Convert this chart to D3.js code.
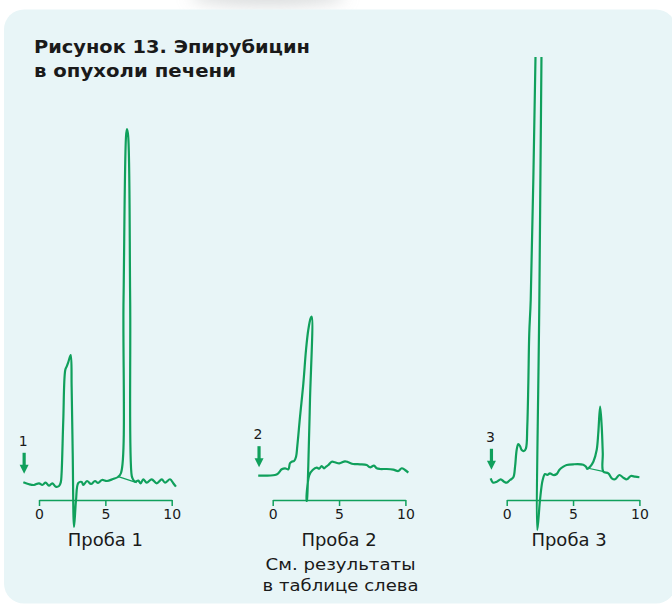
<!DOCTYPE html>
<html><head><meta charset="utf-8">
<script src="https://cdn.jsdelivr.net/npm/d3@7"></script>
<style>html,body{margin:0;padding:0;background:#fff;}svg{display:block;}</style>
</head><body>
<svg id="c" width="672" height="605"></svg>
<script>
// ---- data (time in min, signal in arbitrary units) ----
const titleLines = ["Рисунок 13. Эпирубицин", "в опухоли печени"];
const sampleNames = ["Проба 1", "Проба 2", "Проба 3"];
const sampleMarks = ["1", "2", "3"];
const noteLines = ["См. результаты", "в таблице слева"];
const tickValues = [0, 5, 10];

const trace1 = [[-1.18,4.43],[-0.75,3.93],[-0.38,3.75],[0.0,4.18],[0.25,3.75],[0.5,4.33],[0.75,3.58],[1.0,4.18],[1.26,3.33],[1.51,3.5],[1.64,4.4],[1.7,6.5],[1.83,20],[1.98,32.5],[2.09,33.4],[2.21,34.5],[2.39,36.25],[2.46,28.25],[2.54,11.75],[2.64,-6.75],[2.79,0],[2.96,4.25],[3.22,4.5],[3.34,3.75],[3.62,4.75],[3.92,4.0],[4.22,4.75],[4.45,4.25],[4.75,5.0],[5.12,4.75],[5.58,5.25],[5.95,5.75],[6.18,6.75],[6.37,50],[6.56,91],[6.63,92.75],[6.72,91],[6.87,50],[6.99,6.0],[7.11,5.0],[7.23,4.58],[7.48,4.83],[7.66,4.18],[7.86,5.18],[8.12,4.33],[8.49,5.18],[8.87,4.18],[9.25,5.18],[9.5,4.33],[9.87,5.18],[10.12,4.18],[10.32,3.33]];
const base1 = [[5.98,5.83],[7.36,4.33]];

const trace2 = [[-1.09,6.08],[0.17,6.25],[0.42,6.68],[0.68,7.68],[0.93,7.93],[1.18,7.68],[1.3,9.18],[1.43,9.58],[1.61,9.75],[1.76,10.83],[1.85,13.33],[2.06,20.83],[2.31,29.18],[2.51,37.5],[2.68,42.5],[2.86,45.43],[2.94,45.83],[2.81,25],[2.68,8.33],[2.58,0],[2.55,-0.25],[2.61,3.33],[2.76,6.25],[3.01,7.5],[3.32,8.08],[3.51,7.83],[3.69,8.5],[3.87,7.93],[4.02,8.33],[4.19,8.75],[4.45,9.58],[4.69,9.43],[5.02,9.18],[5.45,9.68],[5.7,9.43],[6.07,9.0],[6.58,8.93],[7.08,8.75],[7.33,8.18],[7.63,8.58],[7.84,7.93],[8.09,7.75],[8.59,7.75],[9.09,7.58],[9.47,7.25],[9.72,7.93],[9.97,7.5],[10.22,6.83]];

const trace3 = [[-1.21,5.43],[-1.01,4.33],[-0.75,4.58],[-0.45,5.18],[-0.2,4.58],[0.0,4.33],[0.25,5.0],[0.5,5.68],[0.63,8.33],[0.75,12.5],[0.87,14.0],[1.0,13.5],[1.13,12.5],[1.3,12.25],[1.45,12.93],[1.55,18.33],[1.63,29.18],[1.7,41.68],[1.81,50],[2.17,110.75],[2.21,120],[2.64,120],[2.62,110.75],[2.46,50],[2.31,-7.5],[2.51,0],[2.71,5],[2.89,6.5],[3.06,6.25],[3.26,6.68],[3.51,6.25],[3.77,6.5],[3.96,7.5],[4.27,8.33],[4.52,8.75],[5.02,8.93],[5.77,8.83],[5.98,8.33],[6.07,7.75],[6.28,8.33],[6.53,9.58],[6.78,12.5],[6.9,16.68],[7.04,23.33],[7.16,18.33],[7.24,11.68],[7.28,7.08],[7.66,6.68],[7.92,5.43],[8.17,5.18],[8.49,6.25],[8.79,5.58],[9.05,5.18],[9.35,6.0],[9.68,5.83],[10.0,5.68]];
const base3 = [[6.15,7.93],[7.33,7.08]];

const traces = [trace1, trace2, trace3];
const baselines = [base1, null, base3];

// ---- layout ----
const GREEN = "#10a05c";
const TEXT = "#1a1a1a";
const FONT = "DejaVu Sans, Verdana, sans-serif";
const panelX0 = [39, 272.7, 506.7];
const panelW = 132.7;
const y = d3.scaleLinear().domain([0, 100]).range([500, 100]);
const clipTop = 57;

const svg = d3.select("#c");
const defs = svg.append("defs");
const f = defs.append("filter").attr("id","blur").attr("x","-50%").attr("y","-200%").attr("width","200%").attr("height","500%");
f.append("feGaussianBlur").attr("stdDeviation", 8);
defs.append("clipPath").attr("id","clip").append("rect")
  .attr("x",0).attr("y",clipTop).attr("width",672).attr("height",605-clipTop);

// soft shadow on top
svg.append("ellipse").attr("cx",268).attr("cy",-4).attr("rx",78).attr("ry",10)
  .attr("fill","#bfc3c4").attr("opacity",0.6).attr("filter","url(#blur)");

// panel background
svg.append("rect").attr("x",4).attr("y",9.5).attr("width",672).attr("height",594)
  .attr("rx",20).attr("fill","#e8f5f7");

// title
const titleW = [276, 202];
titleLines.forEach((t,i)=>{
  svg.append("text").attr("x",34).attr("y",53+i*24)
    .attr("font-family",FONT).attr("font-weight","bold")
    .attr("font-size",17.5).attr("fill",TEXT)
    .attr("textLength",titleW[i]).attr("lengthAdjust","spacingAndGlyphs")
    .text(t);
});

const line = d3.line().x(d=>d[0]).y(d=>d[1]).curve(d3.curveCatmullRom.alpha(0.5));

traces.forEach((tr, i) => {
  const x = d3.scaleLinear().domain([0,10]).range([panelX0[i], panelX0[i]+panelW]);
  const g = svg.append("g");

  // axis
  const ax = g.append("g").attr("transform","translate(0,500)")
    .call(d3.axisBottom(x).tickValues(tickValues).tickSize(6).tickSizeOuter(0).tickPadding(3));
  ax.select(".domain").attr("stroke",GREEN).attr("stroke-width",1.5);
  ax.selectAll(".tick line").attr("stroke",GREEN).attr("stroke-width",1.5);
  ax.selectAll(".tick text").attr("fill",TEXT).attr("font-size",14).attr("font-family",FONT);

  // trace
  const pts = tr.map(d => [x(d[0]), y(d[1])]);
  g.append("path").attr("d", line(pts)).attr("fill","none")
    .attr("stroke",GREEN).attr("stroke-width",2.2).attr("stroke-linejoin","round")
    .attr("clip-path","url(#clip)");

  if (baselines[i]) {
    g.append("path").attr("d", d3.line()(baselines[i].map(d=>[x(d[0]), y(d[1])])))
      .attr("stroke",GREEN).attr("stroke-width",1.2).attr("fill","none");
  }

  // injection arrow + number
  const ax0 = x(tr[0][0]) + 0.8;
  const tip = y(tr[0][1]) - 8.5;
  g.append("line").attr("x1",ax0).attr("x2",ax0).attr("y1",tip-21).attr("y2",tip-8)
    .attr("stroke",GREEN).attr("stroke-width",3.2);
  g.append("path").attr("d",`M${ax0-4.5},${tip-9}L${ax0+4.5},${tip-9}L${ax0},${tip}Z`).attr("fill",GREEN);
  g.append("text").attr("x",ax0-1).attr("y",tip-28).attr("text-anchor","middle")
    .attr("font-family",FONT).attr("font-size",14)
    .attr("fill",TEXT).text(sampleMarks[i]);

  // sample label
  g.append("text").attr("x",x(5)+(i===2?-4:0)).attr("y",546).attr("text-anchor","middle")
    .attr("font-family",FONT).attr("font-size",18)
    .attr("fill",TEXT).text(sampleNames[i]);
});

// note under sample 2
const noteW = [150, 156];
noteLines.forEach((t,i)=>{
  svg.append("text").attr("x",340.5).attr("y",570+i*20.5).attr("text-anchor","middle")
    .attr("font-family",FONT).attr("font-size",16.5)
    .attr("textLength",noteW[i]).attr("lengthAdjust","spacingAndGlyphs")
    .attr("fill",TEXT).text(t);
});
</script>
</body></html>
